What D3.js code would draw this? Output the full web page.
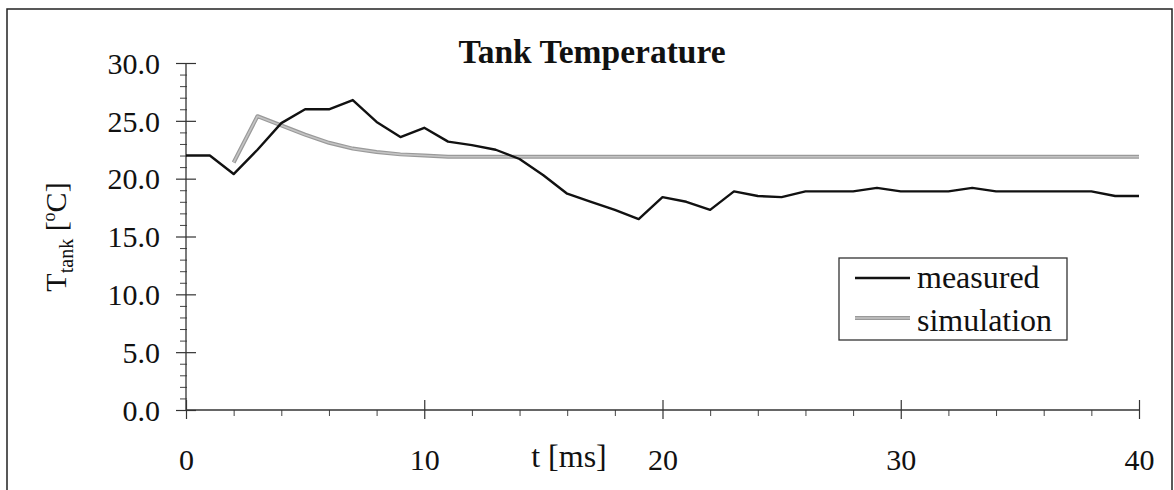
<!DOCTYPE html>
<html>
<head>
<meta charset="utf-8">
<script src="https://cdn.jsdelivr.net/npm/d3@7"></script>
<style>
  body { margin: 0; background: #fff; }
  svg text { font-family: "Liberation Serif", "Times New Roman", serif; fill: #111; }
</style>
</head>
<body>
<svg id="chart" width="1174" height="490"></svg>
<script>
// time steps [ms]
var timeSteps = [0, 1, 2, 3, 4, 5, 6, 7, 8, 9, 10, 11, 12, 13, 14, 15, 16, 17, 18, 19, 20,
                 21, 22, 23, 24, 25, 26, 27, 28, 29, 30, 31, 32, 33, 34, 35, 36, 37, 38, 39, 40];

// measured tank temperature
var measured = [22.0, 22.0, 20.4, 22.5, 24.8, 26.0, 26.0, 26.8, 24.9, 23.6, 24.4,
                23.2, 22.9, 22.5, 21.7, 20.3, 18.7, 18.0, 17.3, 16.5, 18.4,
                18.0, 17.3, 18.9, 18.5, 18.4, 18.9, 18.9, 18.9, 19.2, 18.9,
                18.9, 18.9, 19.2, 18.9, 18.9, 18.9, 18.9, 18.9, 18.5, 18.5];

// simulation starts at t = 2
var simTimes = [2, 3, 4, 5, 6, 7, 8, 9, 10, 11, 12, 13, 14, 15, 16, 17, 18, 19, 20,
                21, 22, 23, 24, 25, 26, 27, 28, 29, 30, 31, 32, 33, 34, 35, 36, 37, 38, 39, 40];
var simulation = [21.4, 25.4, 24.6, 23.8, 23.1, 22.6, 22.3, 22.1, 22.0, 21.9, 21.9, 21.9, 21.9,
                  21.9, 21.9, 21.9, 21.9, 21.9, 21.9, 21.9, 21.9, 21.9, 21.9, 21.9, 21.9, 21.9,
                  21.9, 21.9, 21.9, 21.9, 21.9, 21.9, 21.9, 21.9, 21.9, 21.9, 21.9, 21.9, 21.9];

var xTicks = [0, 10, 20, 30, 40];
var yTicks = [0, 5, 10, 15, 20, 25, 30];
var seriesNames = ["measured", "simulation"];

var svg = d3.select("#chart");

// outer frame
svg.append("rect")
    .attr("x", 7).attr("y", 9)
    .attr("width", 1165).attr("height", 520)
    .attr("fill", "none")
    .attr("stroke", "#222")
    .attr("stroke-width", 1.5);

var x = d3.scaleLinear().domain([0, 40]).range([186, 1139]);
var y = d3.scaleLinear().domain([0, 30]).range([410, 63]);

// minor ticks first (drawn under the major ones)
var yMinor = d3.range(0, 31, 1).filter(function(v) { return v % 5 !== 0; });
svg.append("g")
    .attr("transform", "translate(186,0)")
    .call(d3.axisLeft(y).tickValues(yMinor).tickSize(6).tickFormat(""))
    .call(function(g) { g.select(".domain").remove(); })
    .selectAll("line").attr("stroke", "#444").attr("x2", -6).attr("x1", 1);

var xMinor = d3.range(0, 41, 2).filter(function(v) { return v % 10 !== 0; });
svg.append("g")
    .attr("transform", "translate(0,410)")
    .call(d3.axisBottom(x).tickValues(xMinor).tickSize(6).tickFormat(""))
    .call(function(g) { g.select(".domain").remove(); })
    .selectAll("line").attr("stroke", "#444");

// y axis
var yAxis = svg.append("g")
    .attr("transform", "translate(186,0)")
    .call(d3.axisLeft(y).tickValues(yTicks).tickSize(10).tickPadding(16)
        .tickFormat(d3.format(".1f")));
yAxis.select(".domain").attr("stroke", "#333").attr("stroke-width", 1.3).attr("d", "M0," + y(30) + "V" + y(0));
yAxis.selectAll(".tick line").attr("stroke", "#333").attr("x1", 10).attr("stroke-width", 1.2);
yAxis.selectAll(".tick text")
    .attr("font-size", 30)
    .attr("font-family", "Liberation Serif")
    .attr("fill", "#111")
    .attr("dy", "0.34em");

// x axis
var xAxis = svg.append("g")
    .attr("transform", "translate(0,410)")
    .call(d3.axisBottom(x).tickValues(xTicks).tickSize(9).tickPadding(30));
xAxis.select(".domain").attr("stroke", "#333").attr("stroke-width", 1.3).attr("d", "M" + x(0) + ",0H" + x(40));
xAxis.selectAll(".tick line").attr("stroke", "#333").attr("y1", -10).attr("stroke-width", 1.2);
xAxis.selectAll(".tick text")
    .attr("font-size", 30)
    .attr("font-family", "Liberation Serif")
    .attr("fill", "#111");

// series
var lineMeasured = d3.line()
    .x(function(d, i) { return x(timeSteps[i]); })
    .y(function(d) { return y(d); });

var lineSim = d3.line()
    .x(function(d, i) { return x(simTimes[i]); })
    .y(function(d) { return y(d); });

svg.append("path")
    .datum(simulation)
    .attr("d", lineSim)
    .attr("fill", "none")
    .attr("stroke", "#9a9a9a")
    .attr("stroke-width", 4)
    .attr("stroke-linejoin", "round");
svg.append("path")
    .datum(simulation)
    .attr("d", lineSim)
    .attr("fill", "none")
    .attr("stroke", "#c4c4c4")
    .attr("stroke-width", 1.6)
    .attr("stroke-linejoin", "round");

svg.append("path")
    .datum(measured)
    .attr("d", lineMeasured)
    .attr("fill", "none")
    .attr("stroke", "#111")
    .attr("stroke-width", 2.4)
    .attr("stroke-linejoin", "round");

// title
svg.append("text")
    .attr("x", 592).attr("y", 63)
    .attr("text-anchor", "middle")
    .attr("font-size", 33.5)
    .attr("font-weight", "bold")
    .text("Tank Temperature");

// x label
svg.append("text")
    .attr("x", 569).attr("y", 467)
    .attr("text-anchor", "middle")
    .attr("font-size", 32)
    .text("t [ms]");

// y label with sub/superscript
var yLab = svg.append("text")
    .attr("transform", "translate(66,237) rotate(-90)")
    .attr("text-anchor", "middle")
    .attr("font-size", 30);
yLab.append("tspan").text("T");
yLab.append("tspan").attr("font-size", 20).attr("dy", 7).text("tank");
yLab.append("tspan").attr("dy", -7).text(" [");
yLab.append("tspan").attr("font-size", 18).attr("dy", -11).text("o");
yLab.append("tspan").attr("dy", 11).text("C]");

// legend
var legend = svg.append("g");
legend.append("rect")
    .attr("x", 839).attr("y", 258)
    .attr("width", 228).attr("height", 82)
    .attr("fill", "#fff")
    .attr("stroke", "#333")
    .attr("stroke-width", 1.3);

var legendRows = legend.selectAll("g.row")
    .data(seriesNames)
    .enter().append("g")
    .attr("class", "row")
    .attr("transform", function(d, i) { return "translate(0," + (i === 0 ? 278 : 318) + ")"; });

legendRows.each(function(d, i) {
    var row = d3.select(this);
    if (i === 0) {
        row.append("line").attr("x1", 855).attr("x2", 910)
            .attr("stroke", "#111").attr("stroke-width", 2.4);
    } else {
        row.append("line").attr("x1", 855).attr("x2", 910)
            .attr("stroke", "#9a9a9a").attr("stroke-width", 4);
        row.append("line").attr("x1", 855).attr("x2", 910)
            .attr("stroke", "#c4c4c4").attr("stroke-width", 1.6);
    }
    row.append("text")
        .attr("x", 917).attr("y", i === 0 ? 10 : 13)
        .attr("font-size", 32)
        .text(d);
});
</script>
</body>
</html>
